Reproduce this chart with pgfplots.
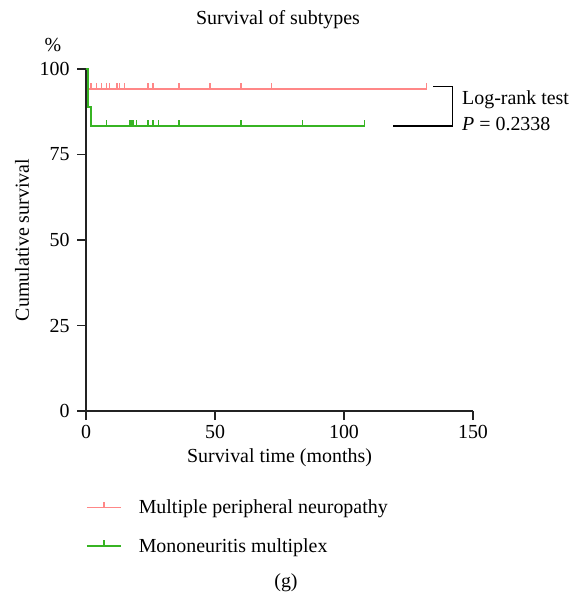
\documentclass[border=0pt]{standalone}
\usepackage{pgfplots}
\pgfplotsset{compat=1.18}
\usepackage{fontspec}
\setmainfont{Liberation Serif}
\definecolor{pinkc}{RGB}{255,135,135}
\definecolor{greenc}{RGB}{55,180,35}
\definecolor{axc}{RGB}{35,35,35}
\pgfdeclareplotmark{cup}{\pgfpathmoveto{\pgfqpoint{0pt}{0pt}}\pgfpathlineto{\pgfqpoint{0pt}{6bp}}\pgfusepathqstroke}
\begin{document}
\begin{tikzpicture}[x=1bp,y=1bp,font=\fontsize{20}{24}\selectfont]
\useasboundingbox (0,0) rectangle (577,-599);
\begin{axis}[
  at={(86bp,-411bp)}, anchor=south west,
  scale only axis, width=387bp, height=342bp,
  xmin=0, xmax=150, ymin=0, ymax=100,
  axis x line*=bottom, axis y line*=left,
  axis line style={line width=1.3bp, draw=axc},
  xtick={0,50,100,150}, ytick={0,25,50,75,100},
  tick align=outside, major tick length=9bp,
  tick style={line width=1.3bp, draw=axc},
  /pgf/number format/assume math mode=true,
  ticklabel style={font=\fontsize{20}{24}\selectfont},
  yticklabel style={xshift=-4bp},
  xticklabel style={yshift=-2bp},
  xlabel={Survival time (months)},
  xlabel style={at={(axis description cs:0.5,0)}, anchor=base, yshift=-51bp},
  ylabel={Cumulative survival},
  ylabel style={at={(axis description cs:-0.1654,0.5)}, anchor=center},
  clip=false,
  legend style={at={(axis description cs:0,0)}, anchor=north west, yshift=-89bp, draw=white, line width=0pt, fill=none, inner sep=0pt, row sep=23bp, nodes={inner sep=0pt, font=\fontsize{20}{24}\selectfont}},
  legend cell align=left,
]
\addplot[const plot, pinkc, line width=1.5bp,
  legend image code/.code={\pgfsetlinewidth{1.5bp}\pgfsetstrokecolor{pinkc}\pgfpathmoveto{\pgfqpoint{0bp}{0bp}}\pgfpathlineto{\pgfqpoint{34bp}{0bp}}\pgfpathmoveto{\pgfqpoint{17bp}{0bp}}\pgfpathlineto{\pgfqpoint{17bp}{6bp}}\pgfusepath{stroke}\pgfpathmoveto{\pgfqpoint{0bp}{0bp}}\pgfpathlineto{\pgfqpoint{52bp}{0bp}}\pgfusepath{use as bounding box}}]
  coordinates {(0,100) (1,94.1) (132,94.1)};
\addlegendentry{Multiple peripheral neuropathy}
\addplot[const plot, greenc, line width=1.5bp,
  legend image code/.code={\pgfsetlinewidth{1.5bp}\pgfsetstrokecolor{greenc}\pgfpathmoveto{\pgfqpoint{0bp}{0bp}}\pgfpathlineto{\pgfqpoint{34bp}{0bp}}\pgfpathmoveto{\pgfqpoint{17bp}{0bp}}\pgfpathlineto{\pgfqpoint{17bp}{6bp}}\pgfusepath{stroke}\pgfpathmoveto{\pgfqpoint{0bp}{0bp}}\pgfpathlineto{\pgfqpoint{52bp}{0bp}}\pgfusepath{use as bounding box}}]
  coordinates {(0,100) (0.7,88.9) (2,83.3) (108,83.3)};
\addlegendentry{Mononeuritis multiplex}
\addplot[only marks, mark=cup, pinkc, line width=1.4bp, forget plot] coordinates {
(2,94.1) (4,94.1) (6,94.1) (8,94.1) (9,94.1) (12,94.1) (13,94.1) (15,94.1) (24,94.1) (26,94.1) (36,94.1) (48,94.1) (60,94.1) (72,94.1) (132,94.1)};
\addplot[only marks, mark=cup, greenc, line width=1.4bp, forget plot] coordinates {
(8,83.3) (17,83.3) (17.5,83.3) (18,83.3) (18.5,83.3) (19.5,83.3) (24,83.3) (26,83.3) (28,83.3) (36,83.3) (60,83.3) (84,83.3) (108,83.3)};
\draw[line width=1.3bp, black] (axis cs:134.5,94.8) -- (axis cs:142.1,94.8) -- (axis cs:142.1,83.3) -- (axis cs:119.1,83.3);
\end{axis}
\node[anchor=base west, inner sep=0pt] at (462,-104.5) {Log-rank test};
\node[anchor=base west, inner sep=0pt] at (462,-131) {\textit{P} = 0.2338};
\node[anchor=base, inner sep=0pt] at (278,-25) {Survival of subtypes};
\node[anchor=center, inner sep=0pt] at (53,-45) {\%};
\node[anchor=base, inner sep=0pt] at (286,-587) {(g)};
\end{tikzpicture}
\end{document}
